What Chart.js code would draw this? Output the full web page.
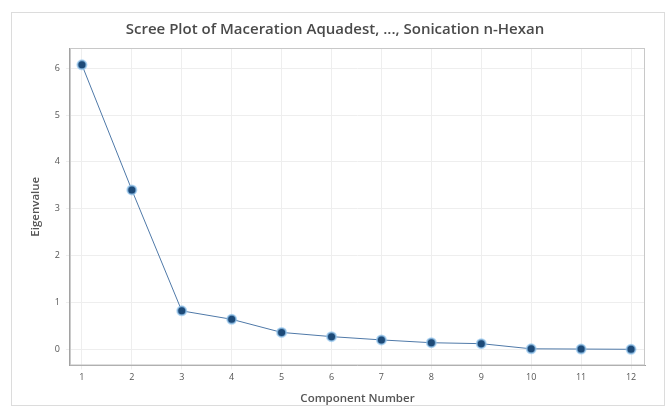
<!DOCTYPE html>
<html>
<head>
<meta charset="utf-8">
<script src="https://cdn.jsdelivr.net/npm/chart.js@4"></script>
<style>
  html, body { margin: 0; padding: 0; background: #fff; }
  #frame {
    position: absolute; left: 11px; top: 12px; width: 654px; height: 394px;
    border: 1px solid #dcdcdc; box-sizing: border-box;
  }
  #wrap { position: absolute; left: 0; top: 0; width: 669px; height: 410px; }
</style>
</head>
<body>
<div id="frame"></div>
<div id="wrap"><canvas id="scree" width="669" height="410"></canvas></div>
<script>
const components = [1, 2, 3, 4, 5, 6, 7, 8, 9, 10, 11, 12];
const eigenvalues = [6.07, 3.40, 0.82, 0.64, 0.36, 0.27, 0.20, 0.14, 0.12, 0.01, 0.005, 0.0];
const yTicks = [0, 1, 2, 3, 4, 5, 6];

const points = components.map((c, i) => ({ x: c, y: eigenvalues[i] }));

// light box around the whole plot area
const plotBox = {
    id: 'plotBox',
    beforeDatasetsDraw(chart) {
        const a = chart.chartArea;
        const c = chart.ctx;
        c.save();
        c.strokeStyle = '#c8c8c8';
        c.lineWidth = 1;
        c.strokeRect(a.left + 0.5, a.top + 0.5, a.right - a.left - 1, a.bottom - a.top - 1);
        c.restore();
    }
};

const ctx = document.getElementById('scree').getContext('2d');
new Chart(ctx, {
    type: 'line',
    data: {
        datasets: [{
            label: 'Eigenvalue',
            data: points,
            borderColor: '#4f79a8',
            borderWidth: 1,
            pointBackgroundColor: '#1d4a78',
            pointBorderColor: 'rgba(150, 200, 240, 0.7)',
            pointBorderWidth: 2,
            pointRadius: 4.5,
            tension: 0
        }]
    },
    options: {
        responsive: false,
        animation: false,
        layout: { padding: { left: 25, right: 24, top: 8, bottom: 0 } },
        plugins: {
            legend: { display: false },
            tooltip: { enabled: false },
            title: {
                display: true,
                text: 'Scree Plot of Maceration Aquadest, ..., Sonication n-Hexan',
                color: '#4a4a4a',
                font: { family: 'Open Sans', size: 15, weight: '600' },
                padding: { top: 13, bottom: 9 }
            }
        },
        scales: {
            x: {
                type: 'linear',
                min: 0.76,
                max: 12.28,
                afterBuildTicks: axis => { axis.ticks = components.map(v => ({ value: v })); },
                grid: { color: '#eeeeee', tickLength: 4, drawTicks: true },
                border: { color: '#a0a0a0' },
                ticks: { color: '#555', font: { family: 'Open Sans', size: 9 }, padding: 3 },
                title: {
                    display: true,
                    text: 'Component Number',
                    color: '#555',
                    font: { family: 'Open Sans', size: 11.5, weight: '600' },
                    padding: { top: 6 }
                }
            },
            y: {
                min: -0.344,
                max: 6.43,
                afterBuildTicks: axis => { axis.ticks = yTicks.map(v => ({ value: v })); },
                grid: { color: '#eeeeee', tickLength: 4 },
                border: { color: '#a0a0a0' },
                ticks: { color: '#555', font: { family: 'Open Sans', size: 9 }, padding: 6 },
                title: {
                    display: true,
                    text: 'Eigenvalue',
                    color: '#555',
                    font: { family: 'Open Sans', size: 11.5, weight: '600' },
                    padding: { bottom: 6 }
                }
            }
        }
    },
    plugins: [plotBox]
});
</script>
</body>
</html>
